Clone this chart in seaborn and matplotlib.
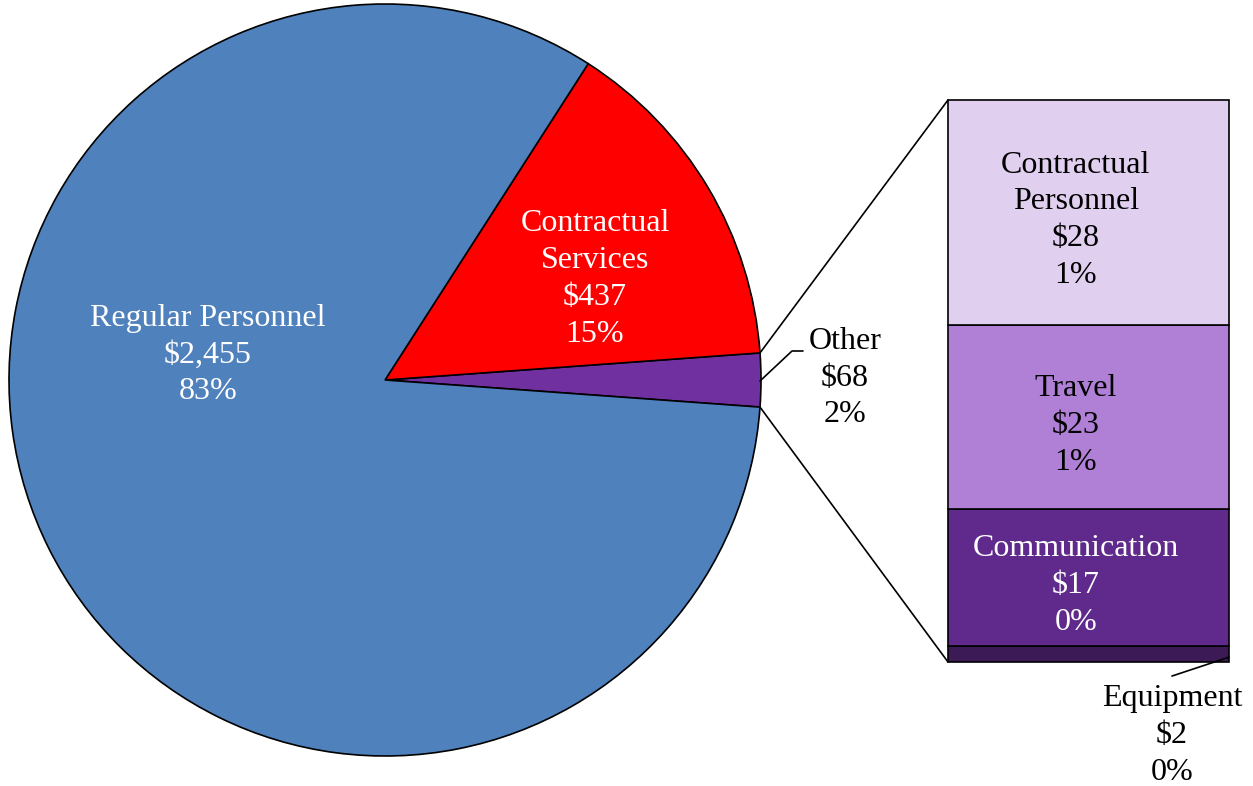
import matplotlib
matplotlib.use("Agg")
import matplotlib.pyplot as plt
from matplotlib.patches import ConnectionPatch
import seaborn as sns
import numpy as np

sns.set_theme(style="white")
plt.rcParams['font.family'] = ['Liberation Serif', 'DejaVu Serif']

pie_labels = ["Other", "Contractual\nServices", "Regular Personnel"]
pie_values = [68, 437, 2455]
pie_pcts = ["2%", "15%", "83%"]
pie_colors = ["#7030A0", "#FF0000", "#4F81BD"]

bar_labels = ["Equipment", "Communication", "Travel", "Contractual\nPersonnel"]
bar_values = [2, 17, 23, 28]
bar_pcts = ["0%", "0%", "1%", "1%"]
bar_colors = ["#3B1A55", "#5F2A8C", "#B07FD6", "#E1CFF0"]

W, H = 1253, 786
fig = plt.figure(figsize=(W / 100, H / 100), dpi=100)

# pie axes
cx, cy, r = 385, 380, 376
ax1 = fig.add_axes([(cx - r) / W, (H - cy - r) / H, 2 * r / W, 2 * r / H])
total = sum(pie_values)
start = -pie_values[0] / total * 360 / 2
wedges, _ = ax1.pie(pie_values, colors=pie_colors, startangle=start, counterclock=True,
                    radius=1, wedgeprops=dict(edgecolor="black", linewidth=1.2))
ax1.set_xlim(-1, 1)
ax1.set_ylim(-1, 1)
ax1.set_aspect("equal")
ax1.axis("off")

fs = 23
ls = 1.36
def px2d(x, y):
    return ((x - cx) / r, (cy - y) / r)

x, y = px2d(208, 355)
ax1.text(x, y, f"{pie_labels[2]}\n${pie_values[2]:,}\n{pie_pcts[2]}", color="white",
         ha="center", va="center", fontsize=fs, linespacing=ls)
x, y = px2d(595, 279)
ax1.text(x, y, f"{pie_labels[1]}\n${pie_values[1]:,}\n{pie_pcts[1]}", color="white",
         ha="center", va="center", fontsize=fs, linespacing=ls)
x, y = px2d(845, 378)
ax1.text(x, y, f"{pie_labels[0]}\n${pie_values[0]:,}\n{pie_pcts[0]}", color="black",
         ha="center", va="center", fontsize=fs, linespacing=ls, clip_on=False)
pts = [px2d(760, 381), px2d(792, 351), px2d(803, 351)]
ax1.plot([p[0] for p in pts], [p[1] for p in pts], color="black", lw=1.2, clip_on=False)

# bar axes
bx0, bx1, by0, by1 = 948, 1229, 100, 662
ax2 = fig.add_axes([bx0 / W, (H - by1) / H, (bx1 - bx0) / W, (by1 - by0) / H])
bottom = 0
for lab, v, p, c in zip(bar_labels, bar_values, bar_pcts, bar_colors):
    ax2.bar(0, v, width=1, bottom=bottom, color=c, edgecolor="black", linewidth=1.2,
            clip_on=False)
    bottom += v
ax2.set_xlim(-0.5, 0.5)
ax2.set_ylim(0, sum(bar_values))
ax2.axis("off")

bottom = 0
for i, (lab, v, p, c) in enumerate(zip(bar_labels, bar_values, bar_pcts, bar_colors)):
    if i > 0:
        col = "white" if i == 1 else "black"
        ax2.text(-0.045, bottom + v / 2 - 1.0, f"{lab}\n${v}\n{p}", color=col, ha="center",
                 va="center", fontsize=fs, linespacing=ls)
    bottom += v
ax2.text(0.297, -9.2, f"{bar_labels[0]}\n${bar_values[0]}\n{bar_pcts[0]}", color="black",
         ha="center", va="center", fontsize=fs, linespacing=ls, clip_on=False)
ax2.plot([0.5, 0.297], [0.6, -1.75], color="black", lw=1.2, clip_on=False)

theta1 = np.deg2rad(start + pie_values[0] / total * 360)
theta0 = np.deg2rad(start)
con1 = ConnectionPatch(xyA=(-0.5, sum(bar_values)), coordsA=ax2.transData,
                       xyB=(np.cos(theta1), np.sin(theta1)), coordsB=ax1.transData,
                       color="black", lw=1.2)
con2 = ConnectionPatch(xyA=(-0.5, 0), coordsA=ax2.transData,
                       xyB=(np.cos(theta0), np.sin(theta0)), coordsB=ax1.transData,
                       color="black", lw=1.2)
fig.add_artist(con1)
fig.add_artist(con2)

fig.savefig("out.png", dpi=100, facecolor="white")
